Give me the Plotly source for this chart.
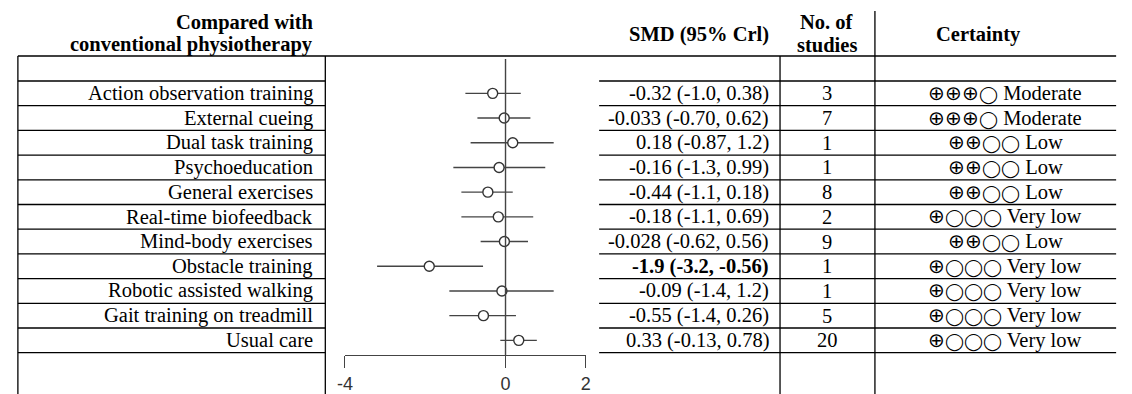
import plotly.graph_objects as go

# ---------------- data ----------------
comparisons = ["Action observation training", "External cueing", "Dual task training",
               "Psychoeducation", "General exercises", "Real-time biofeedback",
               "Mind-body exercises", "Obstacle training", "Robotic assisted walking",
               "Gait training on treadmill", "Usual care"]
smd = [-0.32, -0.033, 0.18, -0.16, -0.44, -0.18, -0.028, -1.9, -0.09, -0.55, 0.33]
lower = [-1.0, -0.70, -0.87, -1.3, -1.1, -1.1, -0.62, -3.2, -1.4, -1.4, -0.13]
upper = [0.38, 0.62, 1.2, 0.99, 0.18, 0.69, 0.56, -0.56, 1.2, 0.26, 0.78]
smd_labels = ["-0.32 (-1.0, 0.38)", "-0.033 (-0.70, 0.62)", "0.18 (-0.87, 1.2)",
              "-0.16 (-1.3, 0.99)", "-0.44 (-1.1, 0.18)", "-0.18 (-1.1, 0.69)",
              "-0.028 (-0.62, 0.56)", "-1.9 (-3.2, -0.56)", "-0.09 (-1.4, 1.2)",
              "-0.55 (-1.4, 0.26)", "0.33 (-0.13, 0.78)"]
n_studies = [3, 7, 1, 1, 8, 2, 9, 1, 1, 5, 20]
certainty_level = [3, 3, 2, 2, 2, 1, 2, 1, 1, 1, 1]   # number of filled symbols out of 4
certainty_label = ["Moderate", "Moderate", "Low", "Low", "Low", "Very low", "Low",
                   "Very low", "Very low", "Very low", "Very low"]
significant = [False, False, False, False, False, False, False, True, False, False, False]
x_ticks = [-4, 0, 2]
x_range = [-4, 2]

# ---------------- layout helpers ----------------
W, H = 1132, 394
ROW0, ROWH = 93.35, 24.7   # pixel centre of first row, row height
FS = 20.5


def px(x):
    return x / W


def py(y):
    return 1 - y / H


serif = "Liberation Serif, Times New Roman, serif"
sans = "Liberation Sans, Arial, sans-serif"
LINE = "#444444"

rows = list(range(len(comparisons)))

fig = go.Figure()

# CI lines
ci_x, ci_y = [], []
for i, (lo, hi) in enumerate(zip(lower, upper)):
    ci_x += [lo, hi, None]
    ci_y += [i, i, None]
fig.add_trace(go.Scatter(x=ci_x, y=ci_y, mode="lines",
                         line=dict(color=LINE, width=1.4),
                         hoverinfo="skip", showlegend=False, cliponaxis=False))
# point estimates
fig.add_trace(go.Scatter(x=smd, y=rows, mode="markers",
                         marker=dict(symbol="circle", size=10, color="white",
                                     line=dict(color="#333333", width=1.4)),
                         showlegend=False, cliponaxis=False))

shapes = []


def hline(y, x0, x1, w=1.3):
    shapes.append(dict(type="line", xref="paper", yref="paper",
                       x0=px(x0), x1=px(x1), y0=py(y), y1=py(y),
                       line=dict(color="black", width=w)))


def vline(x, y0, y1, w=1.3):
    shapes.append(dict(type="line", xref="paper", yref="paper",
                       x0=px(x), x1=px(x), y0=py(y0), y1=py(y1),
                       line=dict(color="black", width=w)))


# table grid
hline(56, 10, 1121)
row_lines = [81 + ROWH * k for k in range(len(comparisons) + 1)]
for y in row_lines:
    hline(y, 10, 321)
    hline(y, 598, 1121)
vline(10, 56, 394)
vline(321, 56, 394)
vline(781, 56, 394)
vline(877, 11, 394)

# reference line at zero
shapes.append(dict(type="line", xref="x", yref="paper", x0=0, x1=0,
                   y0=py(59), y1=py(355), line=dict(color=LINE, width=1.4)))

annotations = []


def ann(text, x, y, xanchor, yref="paper", size=FS, family=serif, bold=False):
    annotations.append(dict(text=("<b>%s</b>" % text) if bold else text,
                            x=px(x), y=(py(y) if yref == "paper" else y),
                            xref="paper", yref=yref, xanchor=xanchor,
                            yanchor="middle", showarrow=False,
                            font=dict(family=family, size=size, color="black")))


def grade(level, label):
    filled = '<span style="font-size:19.5px">' + "⊕" * level + "</span>"
    empty = '<span style="font-size:16.5px">' + "◯" * (4 - level) + "</span>"
    return filled + empty + " " + label


# headers
ann("Compared with", 311, 22, "right", bold=True)
ann("conventional physiotherapy", 311, 45, "right", bold=True)
ann("SMD (95% Crl)", 772, 34, "right", bold=True)
ann("No. of", 829, 22, "center", bold=True)
ann("studies", 829, 45, "center", bold=True)
ann("Certainty", 982, 34, "center", bold=True)

for i in rows:
    ann(comparisons[i], 311, i, "right", yref="y")
    ann(smd_labels[i], 772, i, "right", yref="y", bold=significant[i])
    ann(str(n_studies[i]), 829, i, "center", yref="y")
    ann(grade(certainty_level[i], certainty_label[i]), 1009, i, "center", yref="y")

ax_px0 = 503.3 - 4 * 40.6
ax_px1 = 503.3 + 2 * 40.6

fig.update_layout(
    width=W, height=H,
    margin=dict(l=0, r=0, t=0, b=0),
    paper_bgcolor="white", plot_bgcolor="white",
    shapes=shapes, annotations=annotations,
    xaxis=dict(domain=[px(ax_px0), px(ax_px1)], range=x_range,
               anchor="free", position=py(355), side="bottom",
               tickvals=x_ticks, ticktext=[str(t) for t in x_ticks],
               ticks="outside", ticklen=12, tickwidth=1.4, tickcolor=LINE,
               showline=True, linecolor=LINE, linewidth=1.4,
               showgrid=False, zeroline=False,
               tickfont=dict(family=sans, size=18, color="#333333")),
    yaxis=dict(domain=[0, 1],
               range=[(H - ROW0) / ROWH, -ROW0 / ROWH],
               visible=False, showgrid=False, zeroline=False),
)

fig.write_html(
    "out.html",
    config={"displayModeBar": False},
    post_script="document.body.style.margin='0';document.body.style.padding='0';"
                "document.body.style.overflow='hidden';",
)
